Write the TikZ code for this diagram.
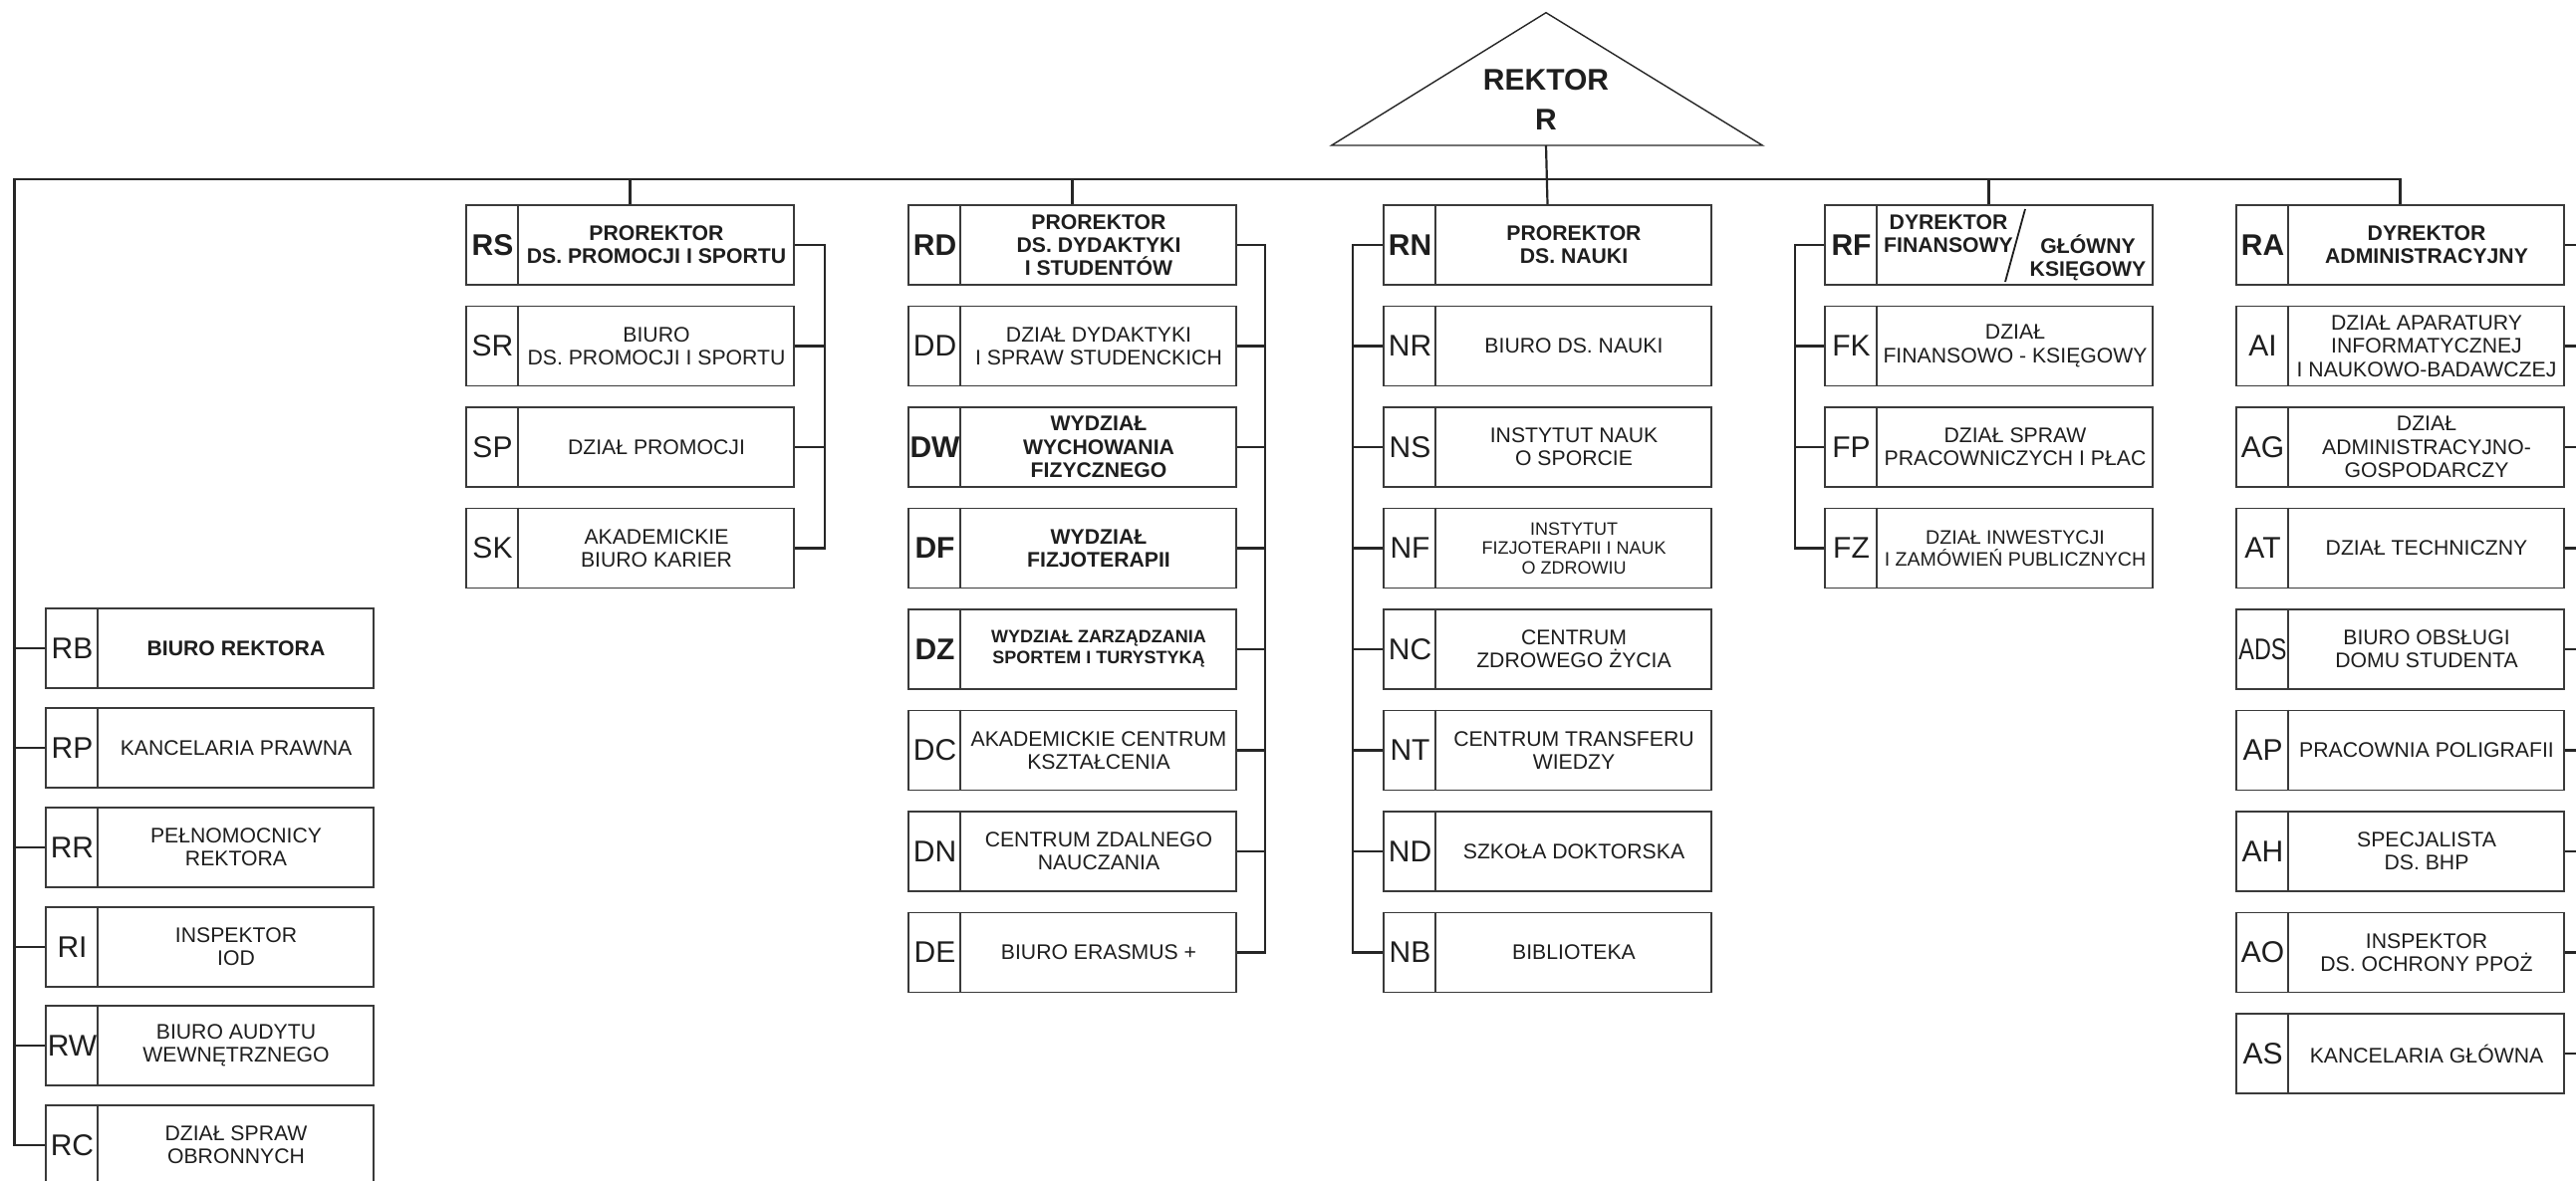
\documentclass[tikz,border=0pt]{standalone}
\usepackage{fontspec}
\setmainfont{Liberation Sans}
\usepackage{graphicx}
\definecolor{ln}{HTML}{262626}
\definecolor{bx}{HTML}{3A3A3A}
\definecolor{tx}{HTML}{1E1E1E}
\newcommand{\orgbox}[7]{%
  \node[obox] (#1) at ({#2+164.5},{#3+40}) {};
  \node[ocode,#5] (#1c) at ({#2+26.5},{#3+40}) {#4};
  \node[otext,#7] (#1t) at ({#2+191},{#3+40}) {#6};
  \draw[divline] ([xshift=26.5pt]#1.north west) -- ([xshift=26.5pt]#1.south west);
}
\begin{document}
\begin{tikzpicture}[x=0.5pt,y=-0.5pt,
  obox/.style={draw=bx,line width=0.9pt,minimum width=164.5pt,minimum height=40pt,inner sep=0pt,fill=white},
  divline/.style={draw=bx,line width=0.9pt},
  ocode/.style={inner sep=0pt,text=tx,font=\fontsize{15}{15.5}\selectfont},
  cb/.style={font=\fontsize{15}{15.5}\selectfont\bfseries},
  otext/.style={inner sep=0pt,align=center,text=tx,font=\fontsize{10.6}{11.65}\selectfont},
  tb/.style={font=\fontsize{10.6}{11.65}\selectfont\bfseries},
  tbs/.style={font=\fontsize{9}{10.5}\selectfont\bfseries},
  ts/.style={font=\fontsize{9}{9.8}\selectfont},
  tm/.style={font=\fontsize{9.8}{11.2}\selectfont},
  bus/.style={draw=ln,line width=1.4pt},
  drop/.style={draw=ln,line width=1.1pt},
  tri/.style={draw=ln,line width=0.7pt}
]
\useasboundingbox (0,0) rectangle (2586,1185);
\clip (0,0) rectangle (2586,1185);

% ---------- Rektor ----------
\coordinate (Rapex) at (1552,12.7);
\coordinate (RbL) at (1336.7,146);
\coordinate (RbR) at (1769.3,146);
\coordinate (Rbase) at (1552,146);
\draw[tri] (Rapex) -- (RbR) -- (RbL) -- cycle;
\node[inner sep=0pt,align=center,text=tx,font=\fontsize{15}{19.7}\selectfont\bfseries] (R) at (1552,100) {REKTOR\\R};

% ---------- left column ----------
\orgbox{RB}{46}{611}{RB}{}{BIURO REKTORA}{tb}
\orgbox{RP}{46}{711}{RP}{}{KANCELARIA PRAWNA}{}
\orgbox{RR}{46}{811}{RR}{}{PEŁNOMOCNICY\\REKTORA}{}
\orgbox{RI}{46}{911}{RI}{}{INSPEKTOR\\IOD}{}
\orgbox{RW}{46}{1010}{RW}{}{BIURO AUDYTU\\WEWNĘTRZNEGO}{}
\orgbox{RC}{46}{1110}{RC}{}{DZIAŁ SPRAW\\OBRONNYCH}{}

% ---------- column 1 ----------
\orgbox{RS}{468}{206}{RS}{cb}{PROREKTOR\\DS. PROMOCJI I SPORTU}{tb}
\orgbox{SR}{468}{307.5}{SR}{}{BIURO\\DS. PROMOCJI I SPORTU}{}
\orgbox{SP}{468}{409}{SP}{}{DZIAŁ PROMOCJI}{}
\orgbox{SK}{468}{510.5}{SK}{}{AKADEMICKIE\\BIURO KARIER}{}

% ---------- column 2 ----------
\orgbox{RD}{912}{206}{RD}{cb}{PROREKTOR\\DS. DYDAKTYKI\\I STUDENTÓW}{tb}
\orgbox{DD}{912}{307.5}{DD}{}{DZIAŁ DYDAKTYKI\\I SPRAW STUDENCKICH}{}
\orgbox{DW}{912}{409}{DW}{cb}{WYDZIAŁ\\WYCHOWANIA\\FIZYCZNEGO}{tb}
\orgbox{DF}{912}{510.5}{DF}{cb}{WYDZIAŁ\\FIZJOTERAPII}{tb}
\orgbox{DZ}{912}{612}{DZ}{cb}{WYDZIAŁ ZARZĄDZANIA\\SPORTEM I TURYSTYKĄ}{tbs}
\orgbox{DC}{912}{713.5}{DC}{}{AKADEMICKIE CENTRUM\\KSZTAŁCENIA}{}
\orgbox{DN}{912}{815}{DN}{}{CENTRUM ZDALNEGO\\NAUCZANIA}{}
\orgbox{DE}{912}{916.5}{DE}{}{BIURO ERASMUS +}{}

% ---------- column 3 ----------
\orgbox{RN}{1389}{206}{RN}{cb}{PROREKTOR\\DS. NAUKI}{tb}
\orgbox{NR}{1389}{307.5}{NR}{}{BIURO DS. NAUKI}{}
\orgbox{NS}{1389}{409}{NS}{}{INSTYTUT NAUK\\O SPORCIE}{}
\orgbox{NF}{1389}{510.5}{NF}{}{INSTYTUT\\FIZJOTERAPII I NAUK\\O ZDROWIU}{ts}
\orgbox{NC}{1389}{612}{NC}{}{CENTRUM\\ZDROWEGO ŻYCIA}{}
\orgbox{NT}{1389}{713.5}{NT}{}{CENTRUM TRANSFERU\\WIEDZY}{}
\orgbox{ND}{1389}{815}{ND}{}{SZKOŁA DOKTORSKA}{}
\orgbox{NB}{1389}{916.5}{NB}{}{BIBLIOTEKA}{}

% ---------- column 4 ----------
\orgbox{RF}{1832}{206}{RF}{cb}{}{}
\node[otext,tb] (RFa) at (1956,235) {DYREKTOR\\FINANSOWY};
\node[otext,tb] (RFb) at (2096,259) {GŁÓWNY\\KSIĘGOWY};
\coordinate (slA) at (2033,210);
\coordinate (slB) at (2013,283);
\draw[draw=tx,line width=0.9pt] (slA) -- (slB);
\orgbox{FK}{1832}{307.5}{FK}{}{DZIAŁ\\FINANSOWO - KSIĘGOWY}{}
\orgbox{FP}{1832}{409}{FP}{}{DZIAŁ SPRAW\\PRACOWNICZYCH I PŁAC}{}
\orgbox{FZ}{1832}{510.5}{FZ}{}{DZIAŁ INWESTYCJI\\I ZAMÓWIEŃ PUBLICZNYCH}{tm}

% ---------- column 5 ----------
\orgbox{RA}{2245}{206}{RA}{cb}{DYREKTOR\\ADMINISTRACYJNY}{tb}
\orgbox{AI}{2245}{307.5}{AI}{}{DZIAŁ APARATURY\\INFORMATYCZNEJ\\I NAUKOWO-BADAWCZEJ}{}
\orgbox{AG}{2245}{409}{AG}{}{DZIAŁ\\ADMINISTRACYJNO-\\GOSPODARCZY}{}
\orgbox{AT}{2245}{510.5}{AT}{}{DZIAŁ TECHNICZNY}{}
\orgbox{ADS}{2245}{612}{\scalebox{0.78}[1]{ADS}}{}{BIURO OBSŁUGI\\DOMU STUDENTA}{}
\orgbox{AP}{2245}{713.5}{AP}{}{PRACOWNIA POLIGRAFII}{}
\orgbox{AH}{2245}{815}{AH}{}{SPECJALISTA\\DS. BHP}{}
\orgbox{AO}{2245}{916.5}{AO}{}{INSPEKTOR\\DS. OCHRONY PPOŻ}{}
\orgbox{AS}{2245}{1018}{AS}{}{KANCELARIA GŁÓWNA}{}

% ---------- connectors ----------
\coordinate (busL) at (14.5,180);
\draw[drop] (Rbase) -- (RN.north);
\draw[bus] (RC.west) -| (busL) -- (busL -| RA.north) -- (RA.north);
\foreach \n in {RS,RD,RF}{\draw[drop] (busL -| \n.north) -- (\n.north);}
\foreach \n in {RB,RP,RR,RI,RW}{\draw[bus] (\n.west) -- (\n.west -| busL);}

\coordinate (b1) at (828,0);
\draw[bus] (RS.east) -- (RS.east -| b1) -- (SK.east -| b1) -- (SK.east);
\foreach \n in {SR,SP}{\draw[bus] (\n.east) -- (\n.east -| b1);}

\coordinate (b2) at (1270,0);
\draw[bus] (RD.east) -- (RD.east -| b2) -- (DE.east -| b2) -- (DE.east);
\foreach \n in {DD,DW,DF,DZ,DC,DN}{\draw[bus] (\n.east) -- (\n.east -| b2);}

\coordinate (b3) at (1358,0);
\draw[bus] (RN.west) -- (RN.west -| b3) -- (NB.west -| b3) -- (NB.west);
\foreach \n in {NR,NS,NF,NC,NT,ND}{\draw[bus] (\n.west) -- (\n.west -| b3);}

\coordinate (b4) at (1802,0);
\draw[bus] (RF.west) -- (RF.west -| b4) -- (FZ.west -| b4) -- (FZ.west);
\foreach \n in {FK,FP}{\draw[bus] (\n.west) -- (\n.west -| b4);}

\coordinate (b5) at (2594,0);
\draw[bus] (RA.east) -- (RA.east -| b5) -- (AS.east -| b5) -- (AS.east);
\foreach \n in {AI,AG,AT,ADS,AP,AH,AO}{\draw[bus] (\n.east) -- (\n.east -| b5);}
\end{tikzpicture}
\end{document}
